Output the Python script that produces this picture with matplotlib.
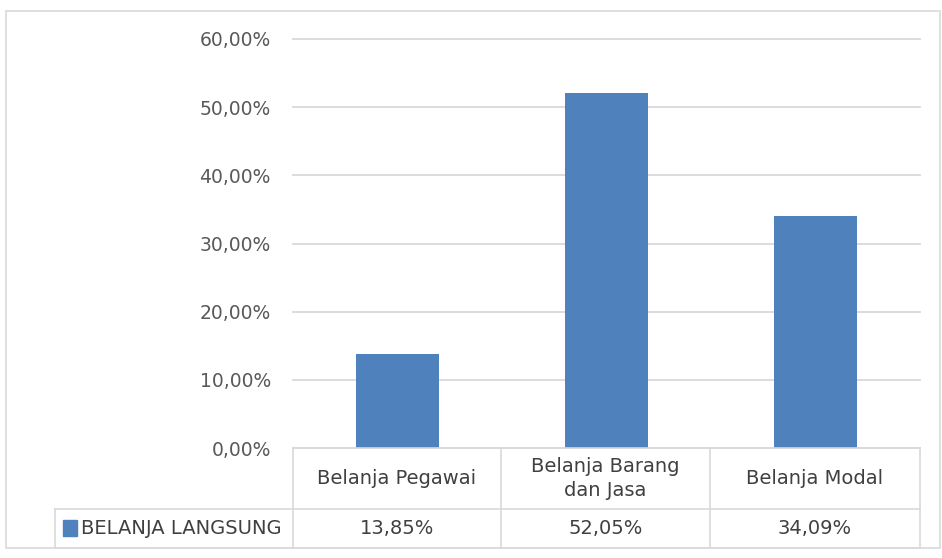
import numpy as np
import matplotlib
matplotlib.use("Agg")
import matplotlib.pyplot as plt
from matplotlib.lines import Line2D
from matplotlib.patches import Rectangle

# data
kategori = ["Belanja Pegawai", "Belanja Barang\ndan Jasa", "Belanja Modal"]
nilai = [13.85, 52.05, 34.09]
label_nilai = ["13,85%", "52,05%", "34,09%"]
seri = "BELANJA LANGSUNG"
yticks = [0, 10, 20, 30, 40, 50, 60]

W, H = 942, 558
biru = "#4F81BD"
abu = "#D9D9D9"
teks = "#404040"

fig = plt.figure(figsize=(W / 100, H / 100), dpi=100)

def fx(px):
    return px / W

def fy(py):
    return 1 - py / H

# plot area
x0, x1, ytop, ybot = 293, 920, 39, 448
ax = fig.add_axes([fx(x0), fy(ybot), fx(x1) - fx(x0), fy(ytop) - fy(ybot)])
ax.bar(np.arange(len(nilai)), nilai, width=0.4, color=biru, zorder=3)
ax.set_xlim(-0.5, len(nilai) - 0.5)
ax.set_ylim(0, 60)
ax.set_yticks(yticks)
ax.set_yticklabels([f"{v:.2f}%".replace(".", ",") for v in yticks],
                   fontsize=13.5, color="#595959", family="DejaVu Sans")
ax.tick_params(axis="y", length=0, pad=16)
ax.set_xticks([])
for s in ax.spines.values():
    s.set_visible(False)
ax.yaxis.grid(True, color=abu, linewidth=1.3, zorder=0)
for g in ax.get_ygridlines():
    g.set_clip_on(False)

# outer border
fig.add_artist(Rectangle((fx(6), fy(548)), fx(940) - fx(6), fy(11) - fy(548),
                         transform=fig.transFigure, fill=False, edgecolor=abu, lw=1.2))

# data table
r1, r2, r3 = 448, 509, 548
cols = [293, 501, 710, 920]
garis = [
    ((x0, x1), (r1, r1)),
    ((55, x1), (r2, r2)),
    ((55, x1), (r3, r3)),
    ((55, 55), (r2, r3)),
]
for c in cols:
    garis.append(((c, c), (r1, r3)))
for (xa, xb), (ya, yb) in garis:
    fig.add_artist(Line2D([fx(xa), fx(xb)], [fy(ya), fy(yb)],
                          transform=fig.transFigure, color=abu, lw=1.2))

fnt = "DejaVu Sans"
for i in range(len(kategori)):
    cx = (cols[i] + cols[i + 1]) / 2
    fig.text(fx(cx), fy((r1 + r2) / 2), kategori[i], ha="center", va="center",
             fontsize=14, color=teks, family=fnt, linespacing=1.4)
    fig.text(fx(cx), fy((r2 + r3) / 2), label_nilai[i], ha="center", va="center",
             fontsize=14, color=teks, family=fnt)

fig.add_artist(Rectangle((fx(63), fy(536)), fx(77) - fx(63), fy(520) - fy(536),
                         transform=fig.transFigure, color=biru))
fig.text(fx(81), fy((r2 + r3) / 2), seri, ha="left", va="center",
         fontsize=14, color=teks, family=fnt)

fig.savefig("out.png", dpi=100)
